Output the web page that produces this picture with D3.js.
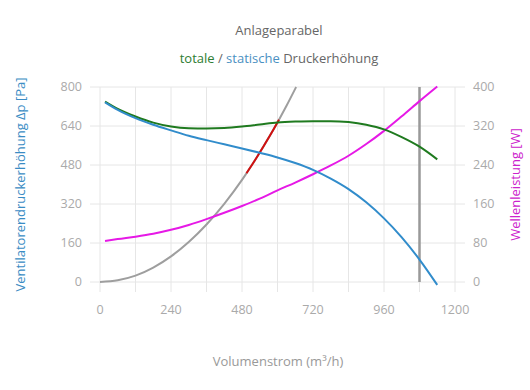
<!DOCTYPE html>
<html>
<head>
<meta charset="utf-8">
<script src="https://cdn.jsdelivr.net/npm/d3@7"></script>
<style>
  body { margin: 0; background: #fff; }
  svg { font-family: "Open Sans", "Noto Sans", sans-serif; }
</style>
</head>
<body>
<svg width="530" height="390"></svg>
<script>
// volume flow (m3/h) where the fan curves were read
var volumen = [17, 60, 120, 180, 240, 300, 360, 420, 480, 540, 600, 660, 720, 780, 840, 900, 960, 1020, 1080, 1140];
var totaleDruck = [740, 710, 679, 654, 638, 631, 630, 632, 638, 646, 654, 658, 660, 660, 656, 645, 626, 594, 555, 503];
var statischeDruck = [737, 706, 672, 645, 622, 600, 582, 565, 548, 530, 511, 488, 460, 424, 381, 327, 261, 183, 92, -12];
var wellenleistung = [84, 88, 93, 99, 107, 117, 129, 142, 156, 171, 188, 204, 221, 239, 259, 283, 310, 340, 371, 401];

// system curve (Anlageparabel)
var anlageQ = [0, 60, 120, 180, 240, 300, 360, 420, 480, 495, 520, 550, 580, 605, 630, 663];
var anlageP = [0, 7, 26, 59, 105, 164, 236, 321, 419, 446, 492, 551, 612, 666, 722, 800];
var bereichVon = 495, bereichBis = 605;   // red part
var betriebspunkt = 1080;                 // vertical marker

var xTicks = [0, 240, 480, 720, 960, 1200];
var xGrid = [0, 120, 240, 360, 480, 600, 720, 840, 960, 1080, 1200];
var yTicks = [0, 160, 320, 480, 640, 800];
var y2Ticks = [0, 80, 160, 240, 320, 400];

var svg = d3.select("svg");

var x = d3.scaleLinear().domain([0, 1200]).range([100, 455]);
var y = d3.scaleLinear().domain([0, 800]).range([282, 87]);
var y2 = d3.scaleLinear().domain([0, 400]).range([282, 87]);

var gridColor = "#e6e6e6", tickColor = "#aaaaaa";

// grid
svg.append("g").selectAll("line")
    .data(yTicks)
    .enter().append("line")
      .attr("x1", 90).attr("x2", 465)
      .attr("y1", function(d) { return y(d); })
      .attr("y2", function(d) { return y(d); })
      .attr("stroke", gridColor);

svg.append("g").selectAll("line")
    .data(xGrid)
    .enter().append("line")
      .attr("x1", function(d) { return x(d); })
      .attr("x2", function(d) { return x(d); })
      .attr("y1", y(800)).attr("y2", y(0) + 10)
      .attr("stroke", gridColor);

// tick labels
svg.append("g").selectAll("text")
    .data(yTicks)
    .enter().append("text")
      .attr("x", 82)
      .attr("y", function(d) { return y(d); })
      .attr("dy", "0.35em")
      .attr("text-anchor", "end")
      .attr("font-size", 12.5)
      .attr("fill", tickColor)
      .text(function(d) { return d; });

svg.append("g").selectAll("text")
    .data(y2Ticks)
    .enter().append("text")
      .attr("x", 473)
      .attr("y", function(d) { return y2(d); })
      .attr("dy", "0.35em")
      .attr("font-size", 12.5)
      .attr("fill", tickColor)
      .text(function(d) { return d; });

svg.append("g").selectAll("text")
    .data(xTicks)
    .enter().append("text")
      .attr("x", function(d) { return x(d); })
      .attr("y", 310)
      .attr("dy", "0.35em")
      .attr("text-anchor", "middle")
      .attr("font-size", 12.5)
      .attr("fill", tickColor)
      .text(function(d) { return d; });

// titles
svg.append("text")
    .attr("x", 279).attr("y", 30).attr("dy", "0.35em")
    .attr("text-anchor", "middle")
    .attr("font-size", 13)
    .attr("fill", "#666")
    .text("Anlageparabel");

var sub = svg.append("text")
    .attr("x", 279).attr("y", 58).attr("dy", "0.35em")
    .attr("text-anchor", "middle")
    .attr("font-size", 13);
sub.append("tspan").attr("fill", "#2e7d32").text("totale");
sub.append("tspan").attr("fill", "#666").text(" / ");
sub.append("tspan").attr("fill", "#4a90c2").text("statische");
sub.append("tspan").attr("fill", "#666").text(" Druckerhöhung");

svg.append("text")
    .attr("x", 278).attr("y", 361).attr("dy", "0.35em")
    .attr("text-anchor", "middle")
    .attr("font-size", 13)
    .attr("fill", "#999")
    .text("Volumenstrom (m³/h)");

svg.append("text")
    .attr("transform", "translate(20," + ((y(0) + y(800)) / 2) + ") rotate(-90)")
    .attr("dy", "0.35em")
    .attr("text-anchor", "middle")
    .attr("font-size", 13)
    .attr("fill", "#3a8cc4")
    .text("Ventilatorendruckerhöhung Δp [Pa]");

svg.append("text")
    .attr("transform", "translate(515," + ((y(0) + y(800)) / 2) + ") rotate(-90)")
    .attr("dy", "0.35em")
    .attr("text-anchor", "middle")
    .attr("font-size", 13)
    .attr("fill", "#cc22cc")
    .text("Wellenleistung [W]");

// curves
var line = d3.line()
    .x(function(d) { return x(d[0]); })
    .y(function(d) { return d[2](d[1]); })
    .curve(d3.curveMonotoneX);

function pairs(qs, vs, scale) {
  return qs.map(function(q, i) { return [q, vs[i], scale]; });
}

var anlage = pairs(anlageQ, anlageP, y);

svg.append("path")
    .datum(anlage)
    .attr("d", line)
    .attr("fill", "none")
    .attr("stroke", "#9e9e9e")
    .attr("stroke-width", 2);

svg.append("path")
    .datum(anlage.filter(function(d) { return d[0] >= bereichVon && d[0] <= bereichBis; }))
    .attr("d", line)
    .attr("fill", "none")
    .attr("stroke", "#d01010")
    .attr("stroke-width", 2);

svg.append("line")
    .attr("x1", x(betriebspunkt)).attr("x2", x(betriebspunkt))
    .attr("y1", y(0)).attr("y2", y(800))
    .attr("stroke", "#999")
    .attr("stroke-width", 2.5);

var series = [
  { werte: pairs(volumen, wellenleistung, y2), farbe: "#e619e6" },
  { werte: pairs(volumen, totaleDruck, y), farbe: "#1f7a1f" },
  { werte: pairs(volumen, statischeDruck, y), farbe: "#318ccb" }
];

svg.append("g").selectAll("path")
    .data(series)
    .enter().append("path")
      .attr("d", function(d) { return line(d.werte); })
      .attr("fill", "none")
      .attr("stroke", function(d) { return d.farbe; })
      .attr("stroke-width", 2);
</script>
</body>
</html>
